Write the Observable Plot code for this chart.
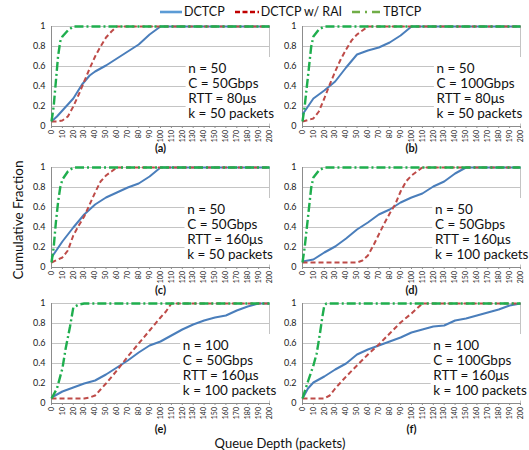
<!DOCTYPE html>
<html><head><meta charset="utf-8">
<script src="https://cdn.jsdelivr.net/npm/d3@7"></script>
<script src="https://cdn.jsdelivr.net/npm/@observablehq/plot@0.6"></script>
<style>
body{margin:0;background:#fff;font-family:Lato,sans-serif;}
#root{position:relative;width:529px;height:450px;overflow:hidden;background:#fff;}
.panel{position:absolute;}
#legend{position:absolute;top:4px;left:160px;display:flex;align-items:center;font-size:12.5px;color:#111;white-space:nowrap;}
#legend .item{display:flex;align-items:center;margin-right:10px;}
#legend svg{margin-right:2px;}
#ylab{position:absolute;left:18px;top:220px;transform:translate(-50%,-50%) rotate(-90deg);font-size:13.5px;white-space:nowrap;color:#111;}
#xlab{position:absolute;left:280px;top:443px;transform:translate(-50%,-50%);font-size:13px;white-space:nowrap;color:#111;}
</style></head><body><div id="root"><div id="legend"></div><div id="ylab">Cumulative Fraction</div><div id="xlab">Queue Depth (packets)</div></div>
<script>
const seriesNames = ["DCTCP", "DCTCP w/ RAI", "TBTCP"];
const xTicks = d3.range(0, 201, 10);
const yTicks = [0, 0.2, 0.4, 0.6, 0.8, 1];
const panelLabels = ["(a)", "(b)", "(c)", "(d)", "(e)", "(f)"];
const paramN = ["50", "50", "50", "50", "100", "100"];
const paramC = ["50Gbps", "100Gbps", "50Gbps", "50Gbps", "50Gbps", "100Gbps"];
const paramRTT = ["80μs", "80μs", "160μs", "160μs", "160μs", "160μs"];
const paramK = ["50", "50", "50", "100", "100", "100"];

// [queue depth, cumulative fraction]
const dctcpA = [[0,0.05],[5,0.1],[10,0.16],[20,0.28],[28,0.42],[35,0.51],[40,0.55],[50,0.61],[60,0.68],[70,0.75],[80,0.82],[90,0.92],[100,1],[200,1]];
const raiA = [[0,0.05],[5,0.05],[10,0.06],[15,0.1],[20,0.2],[25,0.32],[30,0.45],[35,0.58],[40,0.7],[45,0.8],[50,0.89],[55,0.95],[60,1],[200,1]];
const tbA = [[0,0.05],[2,0.2],[4,0.45],[6,0.7],[8,0.85],[10,0.9],[15,0.96],[20,1],[200,1]];

const dctcpB = [[0,0.12],[5,0.2],[10,0.28],[20,0.36],[30,0.45],[40,0.59],[50,0.72],[60,0.76],[70,0.79],[80,0.84],[90,0.91],[100,1],[200,1]];
const raiB = [[0,0.05],[10,0.08],[15,0.15],[20,0.28],[25,0.42],[30,0.55],[35,0.67],[40,0.77],[45,0.86],[50,0.92],[55,0.96],[60,1],[200,1]];
const tbB = [[0,0.05],[2,0.2],[4,0.4],[6,0.6],[8,0.8],[10,0.9],[15,0.97],[20,1],[200,1]];

const dctcpC = [[0,0.1],[10,0.26],[20,0.4],[30,0.53],[40,0.63],[50,0.7],[60,0.75],[70,0.8],[80,0.84],[90,0.91],[100,1],[200,1]];
const raiC = [[0,0.05],[10,0.1],[15,0.17],[20,0.32],[25,0.42],[30,0.51],[35,0.63],[40,0.75],[45,0.86],[50,0.92],[55,0.96],[60,1],[200,1]];
const tbC = [[0,0.05],[2,0.2],[4,0.45],[6,0.65],[8,0.8],[10,0.88],[15,0.96],[20,1],[200,1]];

const dctcpD = [[0,0.06],[10,0.08],[20,0.15],[30,0.21],[40,0.29],[50,0.38],[60,0.45],[70,0.53],[80,0.58],[90,0.65],[100,0.7],[110,0.74],[120,0.81],[130,0.86],[140,0.94],[150,1],[200,1]];
const raiD = [[0,0.05],[50,0.05],[55,0.07],[60,0.12],[65,0.22],[70,0.33],[75,0.44],[80,0.54],[85,0.63],[90,0.76],[95,0.86],[100,0.92],[105,0.96],[110,1],[200,1]];
const tbD = [[0,0.05],[2,0.2],[4,0.4],[6,0.6],[8,0.8],[10,0.9],[15,0.97],[20,1],[200,1]];

const dctcpE = [[0,0.06],[10,0.12],[20,0.16],[30,0.2],[40,0.23],[50,0.29],[60,0.36],[70,0.43],[80,0.51],[90,0.58],[100,0.62],[110,0.68],[120,0.74],[130,0.79],[140,0.83],[150,0.86],[160,0.88],[170,0.93],[180,0.97],[190,1],[200,1]];
const raiE = [[0,0.05],[30,0.05],[35,0.06],[40,0.08],[45,0.14],[50,0.2],[60,0.33],[70,0.47],[80,0.6],[90,0.73],[100,0.86],[105,0.92],[110,1],[200,1]];
const tbE = [[0,0.05],[5,0.15],[10,0.35],[13,0.55],[17,0.77],[20,0.96],[25,0.99],[30,1],[200,1]];

const dctcpF = [[0,0.05],[5,0.15],[10,0.21],[20,0.27],[30,0.34],[40,0.4],[50,0.49],[60,0.54],[70,0.58],[80,0.62],[90,0.66],[100,0.71],[110,0.74],[120,0.77],[130,0.78],[140,0.83],[150,0.85],[160,0.88],[170,0.91],[180,0.94],[190,0.98],[200,1]];
const raiF = [[0,0.05],[20,0.05],[25,0.08],[30,0.15],[40,0.27],[50,0.38],[60,0.49],[70,0.59],[80,0.7],[90,0.81],[100,0.9],[110,1],[200,1]];
const tbF = [[0,0.05],[5,0.22],[10,0.38],[13,0.5],[16,0.7],[18,0.85],[20,0.98],[22,1],[200,1]];

const panelSeries = [
  [dctcpA, raiA, tbA], [dctcpB, raiB, tbB], [dctcpC, raiC, tbC],
  [dctcpD, raiD, tbD], [dctcpE, raiE, tbE], [dctcpF, raiF, tbF]
];

// layout (not data)
const lineColors = ["#4a7ebb", "#be4b48", "#1fae4e"];
const legendColors = ["#5b9bd5", "#c00000", "#70ad47"];
const legendDash = [null, "5,2.5", "8,5,2,5"];
const legendLen = [22, 24, 29];
const dashes = [null, "5,3", "9,3,2,3"];
const widths = [2, 2, 2.4];
const panelLeft = [19.7, 271.3];
const panelTop = [22, 162.5, 298.7];
const labelDy = [25, 26, 29];
const boxLeft = [125.5, 123, 124.5, 121.5, 120.5, 120];

const root = document.getElementById("root");

// legend
const legend = document.getElementById("legend");
seriesNames.forEach((name, i) => {
  const item = document.createElement("div");
  item.className = "item";
  item.innerHTML = `<svg width="${legendLen[i]}" height="6"><line x1="0" x2="${legendLen[i]}" y1="3" y2="3" stroke="${legendColors[i]}" stroke-width="2.6" ${legendDash[i] ? `stroke-dasharray="${legendDash[i]}"` : ""}/></svg><span>${name}</span>`;
  legend.appendChild(item);
});

panelSeries.forEach((series, p) => {
  const col = p % 2, row = Math.floor(p / 2);
  const lines = [`n = ${paramN[p]}`, `C = ${paramC[p]}`, `RTT = ${paramRTT[p]}`, `k = ${paramK[p]} packets`];
  const bx = boxLeft[p];
  const marks = [
    Plot.ruleY(yTicks.slice(1), {stroke: "#c4c4c4", strokeWidth: 1}),
    Plot.ruleX([200], {stroke: "#c4c4c4", strokeWidth: 1}),
    Plot.rect([0], {x1: () => bx - 2, x2: () => 204, y1: () => 0.025, y2: () => 0.69, fill: "white"}),
    Plot.ruleX([0], {stroke: "#8c8c8c", strokeWidth: 1}),
    Plot.axisX({ticks: xTicks, tickRotate: -90, tickSize: 2, tickPadding: 1.5, fontSize: 7, stroke: "#8c8c8c", color: "#222", label: null, tickFormat: d => String(d)}),
    Plot.axisY({ticks: yTicks, tickSize: 0, tickPadding: 6, fontSize: 9, color: "#222", label: null, tickFormat: d => String(d)}),
    Plot.ruleY([0], {stroke: "#8c8c8c", strokeWidth: 1}),
  ];
  series.forEach((s, i) => {
    marks.push(Plot.line(s, {x: d => d[0], y: d => d[1], stroke: lineColors[i], strokeWidth: widths[i], strokeDasharray: dashes[i], strokeLinejoin: "round", strokeLinecap: "butt"}));
  });
  marks.push(Plot.text(lines, {x: () => bx, y: (d, i) => 0.58 - i * 0.149, text: d => d, textAnchor: "start", fontSize: 13.5, fill: "#111"}));
  marks.push(Plot.text([panelLabels[p]], {frameAnchor: "bottom", dy: labelDy[row], text: d => d, fontSize: 11, fontWeight: "bold", fill: "#111"}));
  const chart = Plot.plot({
    width: 252, height: 138,
    marginLeft: 31, marginRight: 3, marginTop: 4, marginBottom: 34,
    style: {fontFamily: "Lato, sans-serif", background: "transparent", overflow: "visible"},
    x: {domain: [0, 200]},
    y: {domain: [0, 1]},
    marks
  });
  chart.classList.add("panel");
  chart.style.left = panelLeft[col] + "px";
  chart.style.top = panelTop[row] + "px";
  root.appendChild(chart);
});
</script>
</body></html>
